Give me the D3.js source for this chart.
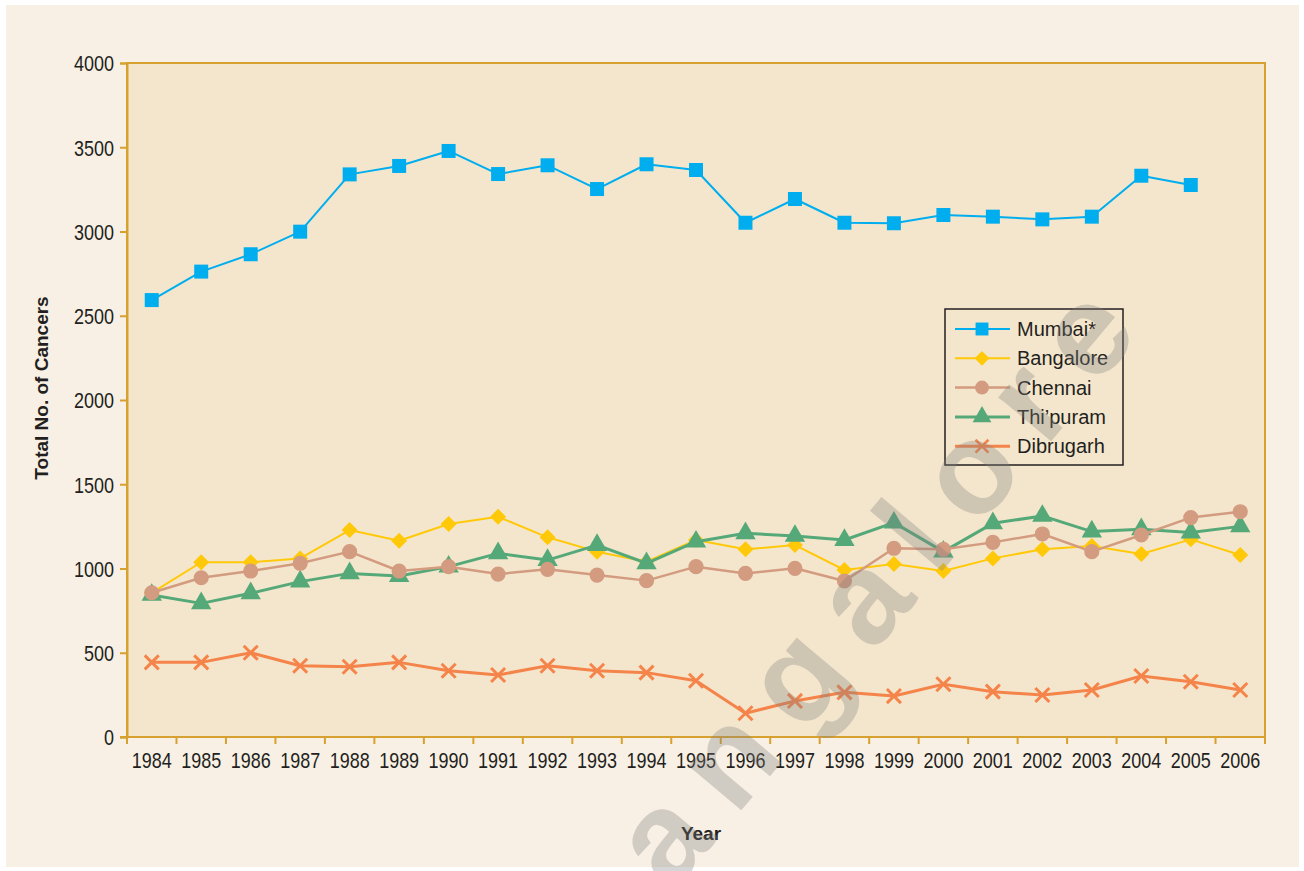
<!DOCTYPE html>
<html>
<head>
<meta charset="utf-8">
<script src="https://cdn.jsdelivr.net/npm/d3@7"></script>
<style>
body { margin: 0; background: #ffffff; }
svg { display: block; }
.tick text { font-family: "Liberation Sans Narrow", "Liberation Sans", Arial, sans-serif; font-size: 22px; fill: #231f20; }
</style>
</head>
<body>
<script>
// data
var years = [1984, 1985, 1986, 1987, 1988, 1989, 1990, 1991, 1992, 1993, 1994, 1995,
             1996, 1997, 1998, 1999, 2000, 2001, 2002, 2003, 2004, 2005, 2006];
var mumbai    = [2593, 2762, 2865, 2999, 3339, 3389, 3478, 3341, 3393, 3252, 3399, 3365,
                 3052, 3193, 3052, 3049, 3098, 3088, 3072, 3088, 3331, 3276, null];
var bangalore = [855, 1037, 1037, 1060, 1228, 1165, 1264, 1307, 1185, 1100, 1040, 1169,
                 1114, 1139, 991, 1027, 985, 1060, 1114, 1134, 1086, 1173, 1080];
var chennai   = [856, 945, 985, 1031, 1100, 985, 1011, 967, 995, 961, 928, 1011,
                 971, 1001, 926, 1120, 1114, 1155, 1205, 1100, 1199, 1302, 1337];
var thipuram  = [843, 793, 853, 922, 971, 955, 1011, 1090, 1050, 1139, 1031, 1159,
                 1209, 1193, 1169, 1272, 1100, 1268, 1312, 1219, 1233, 1213, 1250];
var dibrugarh = [443, 443, 500, 423, 417, 443, 393, 368, 423, 393, 382, 334,
                 141, 214, 265, 243, 313, 269, 249, 279, 362, 328, 279];
var yTicks = [0, 500, 1000, 1500, 2000, 2500, 3000, 3500, 4000];

var W = 1304, H = 871;
var mLeft = 127, mRight = 1265, mTop = 63, mBottom = 737;
var gold = "#d7a130";

var symX = d3.symbolX || {
  draw: function(ctx, size) {
    var r = Math.sqrt(size) * 0.62;
    ctx.moveTo(-r, -r); ctx.lineTo(r, r);
    ctx.moveTo(-r, r); ctx.lineTo(r, -r);
  }
};

// legend order; drawing order is set separately below
var series = [
  {name: "Mumbai*",   values: mumbai,    color: "#00aeef", width: 2,   sym: d3.symbolSquare,   size: 196, fill: true,  rot: 0},
  {name: "Bangalore", values: bangalore, color: "#ffc90a", width: 2,   sym: d3.symbolSquare,   size: 128, fill: true,  rot: 45},
  {name: "Chennai",   values: chennai,   color: "#d39b7f", width: 2.5, sym: d3.symbolCircle,   size: 180, fill: true,  rot: 0},
  {name: "Thi\u2019puram", values: thipuram, color: "#55a979", width: 3, sym: d3.symbolTriangle, size: 180, fill: true, rot: 0},
  {name: "Dibrugarh", values: dibrugarh, color: "#f5844a", width: 3,   sym: symX,              size: 130, fill: false, rot: 0}
];
var drawOrder = [0, 1, 3, 2, 4];

var svg = d3.select("body").append("svg")
  .attr("width", W).attr("height", H);

svg.append("rect").attr("x", 6).attr("y", 5).attr("width", 1293).attr("height", 862)
  .attr("fill", "#f8f0e4");

var x = d3.scaleBand().domain(years).range([mLeft, mRight]).padding(0);
var y = d3.scaleLinear().domain([0, 4000]).range([mBottom, mTop]);
var cx = function(i) { return x(years[i]) + x.bandwidth() / 2; };

// plot area
svg.append("rect")
  .attr("x", mLeft).attr("y", mTop)
  .attr("width", mRight - mLeft).attr("height", mBottom - mTop)
  .attr("fill", "#f4e6cc")
  .attr("stroke", gold).attr("stroke-width", 2);

// y axis
var yAxis = svg.append("g")
  .attr("transform", "translate(" + mLeft + ",0)")
  .call(d3.axisLeft(y).tickValues(yTicks).tickSize(7).tickPadding(6).tickFormat(d3.format("d")));
yAxis.select(".domain").attr("stroke", gold).attr("stroke-width", 2);
yAxis.selectAll(".tick line").attr("stroke", gold).attr("stroke-width", 2);
yAxis.selectAll(".tick text").attr("dy", "0.36em")
  .attr("textLength", function(d) { return String(d).length * 10; })
  .attr("lengthAdjust", "spacingAndGlyphs");

// x axis: labels at category centres, ticks on the category edges
var xAxis = svg.append("g")
  .attr("transform", "translate(0," + mBottom + ")")
  .call(d3.axisBottom(x).tickSize(0).tickPadding(15));
xAxis.select(".domain").remove();
xAxis.selectAll(".tick text").attr("dy", "0.71em")
  .attr("textLength", 40)
  .attr("lengthAdjust", "spacingAndGlyphs");
svg.append("g").selectAll("line")
  .data(years.concat([null]))
  .join("line")
  .attr("x1", function(d) { return d === null ? mRight : x(d); })
  .attr("x2", function(d) { return d === null ? mRight : x(d); })
  .attr("y1", mBottom).attr("y2", mBottom + 7)
  .attr("stroke", gold).attr("stroke-width", 2);
svg.append("line")
  .attr("x1", mLeft - 7).attr("x2", mRight)
  .attr("y1", mBottom).attr("y2", mBottom)
  .attr("stroke", gold).attr("stroke-width", 2);

// axis titles
svg.append("text")
  .attr("x", 701).attr("y", 840)
  .attr("text-anchor", "middle")
  .attr("font-family", "Liberation Sans, Arial, sans-serif")
  .attr("font-weight", "bold").attr("font-size", 19)
  .attr("fill", "#231f20")
  .text("Year");
svg.append("text")
  .attr("transform", "translate(48,388) rotate(-90)")
  .attr("text-anchor", "middle")
  .attr("font-family", "Liberation Sans, Arial, sans-serif")
  .attr("font-weight", "bold").attr("font-size", 19)
  .attr("fill", "#231f20")
  .text("Total No. of Cancers");

// lines and markers
var line = d3.line()
  .defined(function(d) { return d !== null; })
  .x(function(d, i) { return cx(i); })
  .y(function(d) { return y(d); });

drawOrder.forEach(function(k) {
  var s = series[k];
  var g = svg.append("g");
  g.append("path")
    .datum(s.values)
    .attr("d", line)
    .attr("fill", "none")
    .attr("stroke", s.color)
    .attr("stroke-width", s.width)
    .attr("stroke-linejoin", "round");
  g.selectAll("path.mk")
    .data(s.values.map(function(v, i) { return {v: v, i: i}; }).filter(function(d) { return d.v !== null; }))
    .join("path")
    .attr("class", "mk")
    .attr("transform", function(d) { return "translate(" + cx(d.i) + "," + y(d.v) + ") rotate(" + s.rot + ")"; })
    .attr("d", d3.symbol(s.sym, s.size))
    .attr("fill", s.fill ? s.color : "none")
    .attr("stroke", s.fill ? "none" : s.color)
    .attr("stroke-width", s.fill ? 0 : 3);
});

// legend
var lg = svg.append("g");
lg.append("rect")
  .attr("x", 945).attr("y", 309).attr("width", 178).attr("height", 156)
  .attr("fill", "#f4e6cc").attr("stroke", "#231f20").attr("stroke-width", 1.5);
var rows = lg.selectAll("g.row").data(series).join("g")
  .attr("class", "row")
  .attr("transform", function(d, i) { return "translate(0," + (329 + i * 29.3) + ")"; });
rows.append("line")
  .attr("x1", 955).attr("x2", 1010)
  .attr("stroke", function(d) { return d.color; })
  .attr("stroke-width", function(d) { return d.width; });
rows.append("path")
  .attr("transform", function(d) { return "translate(982,0) rotate(" + d.rot + ")"; })
  .attr("d", function(d) { return d3.symbol(d.sym, d.size * 0.85)(); })
  .attr("fill", function(d) { return d.fill ? d.color : "none"; })
  .attr("stroke", function(d) { return d.fill ? "none" : d.color; })
  .attr("stroke-width", function(d) { return d.fill ? 0 : 2.5; });
rows.append("text")
  .attr("x", 1017).attr("y", 7)
  .attr("font-family", "Liberation Sans, Arial, sans-serif")
  .attr("font-size", 20)
  .attr("fill", "#231f20")
  .text(function(d) { return d.name; });

// watermark across the picture
svg.append("text")
  .attr("transform", "translate(594,986) rotate(-50)")
  .attr("font-family", "Liberation Sans, Arial, sans-serif")
  .attr("font-weight", "bold")
  .attr("font-size", 130)
  .attr("letter-spacing", 27)
  .attr("fill", "#7f7f7f")
  .attr("fill-opacity", 0.32)
  .text("Bangalore");
</script>
</body>
</html>
